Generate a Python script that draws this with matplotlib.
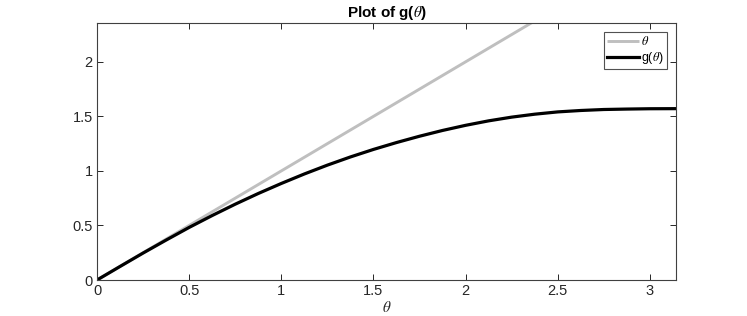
import numpy as np
import matplotlib
matplotlib.use("Agg")
import matplotlib.pyplot as plt

# Data
theta = [0, 0.125, 0.25, 0.375, 0.5, 0.625, 0.75, 0.875, 1.0, 1.125, 1.25, 1.375,
         1.5, 1.625, 1.75, 1.875, 2.0, 2.125, 2.25, 2.375, 2.5, 2.625, 2.75,
         2.875, 3.0, 3.1416]
g_theta = [0, 0.124, 0.247, 0.366, 0.482, 0.591, 0.695, 0.793, 0.885, 0.972, 1.053, 1.128,
           1.197, 1.260, 1.318, 1.371, 1.418, 1.459, 1.493, 1.520, 1.541, 1.554, 1.563,
           1.567, 1.570, 1.5708]
identity = theta  # the straight reference line theta

xticks = [0, 0.5, 1, 1.5, 2, 2.5, 3]
yticks = [0, 0.5, 1, 1.5, 2]
xlim = (0, 3.1416)
ylim = (0, 2.356)

plt.rcParams['font.family'] = ['Liberation Sans', 'DejaVu Sans']
plt.rcParams['mathtext.fontset'] = 'stix'

fig = plt.figure(figsize=(7.47, 3.16), dpi=100)
ax = fig.add_axes([97/747, 1-280/316, (676-97)/747, (280-23)/316])

ax.plot(theta, identity, color='#bfbfbf', lw=2.1, label=r'$\theta$', solid_capstyle='butt')
ax.plot(theta, g_theta, color='black', lw=2.3, label=r'g($\theta$)', solid_joinstyle='round')

ax.set_xlim(*xlim)
ax.set_ylim(*ylim)
ax.set_xticks(xticks)
ax.set_yticks(yticks)
ax.set_xticklabels([f"{t:g}" for t in xticks])
ax.set_yticklabels([f"{t:g}" for t in yticks])
ax.tick_params(direction='in', length=4, width=0.7, colors='#262626', labelsize=10.5,
               top=True, right=True, pad=3)
for s in ax.spines.values():
    s.set_color('#404040')
    s.set_linewidth(0.8)

ax.set_xlabel(r'$\theta$', fontsize=11, labelpad=1, color='#262626')
ax.set_title(r'Plot of g($\theta$)', fontsize=11, fontweight='bold', pad=4)

leg = ax.legend(loc='upper right', bbox_to_anchor=(0.984, 0.965), fontsize=9,
                handlelength=2.6, handletextpad=0.15, borderpad=0.25,
                labelspacing=0.15, borderaxespad=0, frameon=True, fancybox=False)
leg.get_frame().set_edgecolor('#262626')
leg.get_frame().set_linewidth(0.8)

fig.savefig('out.png', dpi=100)
